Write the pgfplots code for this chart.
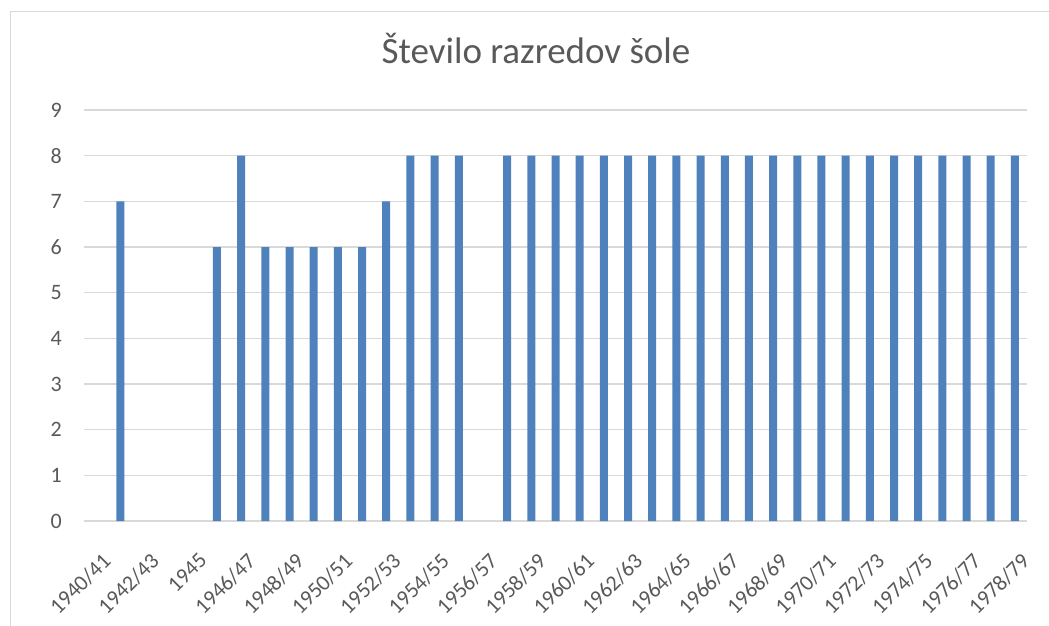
\documentclass[border=0pt]{standalone}
\usepackage{pgfplots}
\pgfplotsset{compat=1.18}
\usepackage{fontspec}
\setmainfont{Carlito}
\definecolor{barblue}{HTML}{4F81BD}
\definecolor{txtgrey}{HTML}{595959}
\definecolor{gridgrey}{HTML}{D9D9D9}
\begin{document}
\begin{tikzpicture}
\begin{axis}[
  scale only axis, width=943pt, height=411pt,
  ybar, bar width=8pt, bar shift=0pt,
  xmin=-0.5, xmax=38.5, ymin=0, ymax=9,
  ytick={0,1,...,9},
  xtick={0,2,...,38},
  xticklabels={1940/41,1942/43,1945,1946/47,1948/49,1950/51,1952/53,1954/55,1956/57,1958/59,1960/61,1962/63,1964/65,1966/67,1968/69,1970/71,1972/73,1974/75,1976/77,1978/79},
  ymajorgrids, grid style={gridgrey, line width=1.3pt},
  axis line style={draw=none}, tick style={draw=none},
  /pgf/number format/assume math mode=true,
  tick label style={txtgrey, font=\fontsize{22}{26}\selectfont},
  yticklabel style={anchor=east, inner sep=0pt, xshift=-22pt},
  xticklabel style={xshift=5pt, yshift=-26pt, rotate=45, anchor=north east, inner sep=0pt},
]
\coordinate (ll) at (rel axis cs:0,0);
\addplot[fill=barblue, draw=none] coordinates {
(1,7) (5,6) (6,8) (7,6) (8,6) (9,6) (10,6) (11,6) (12,7) (13,8) (14,8) (15,8)
(17,8) (18,8) (19,8) (20,8) (21,8) (22,8) (23,8) (24,8) (25,8) (26,8) (27,8) (28,8)
(29,8) (30,8) (31,8) (32,8) (33,8) (34,8) (35,8) (36,8) (37,8) (38,8)
};
\end{axis}
\begin{scope}[shift={(ll)}, x=1pt, y=1pt]
\draw[gridgrey, line width=1pt] (-73.5,-200) -- (-73.5,509.5) -- (1100,509.5);
\node[txtgrey, font=\fontsize{37}{44}\selectfont, anchor=base, inner sep=0pt] at (452,457) {Število razredov šole};
\pgfresetboundingbox
\path[use as bounding box] (-84,-104) rectangle (965,521);
\end{scope}
\end{tikzpicture}
\end{document}
